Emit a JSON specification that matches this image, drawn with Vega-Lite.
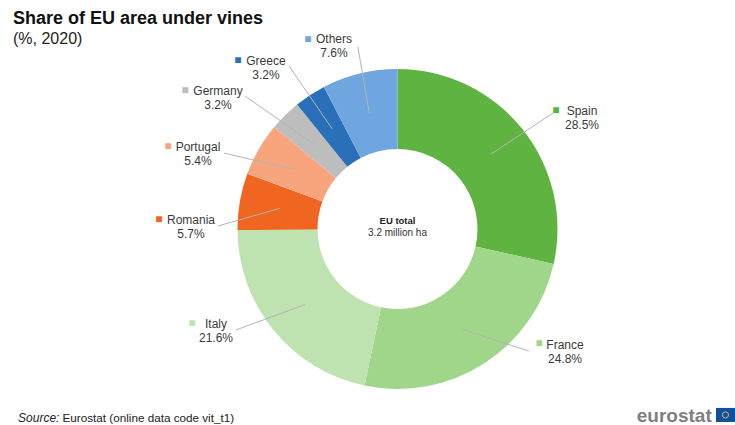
{
  "$schema": "https://vega.github.io/schema/vega-lite/v6.json",
  "autosize": "none",
  "padding": {"left": 60, "top": 33, "right": 0, "bottom": 0},
  "width": 675,
  "height": 392,
  "background": "white",
  "title": {
    "text": "Share of EU area under vines",
    "subtitle": "(%, 2020)",
    "anchor": "start",
    "frame": "group",
    "dx": -47,
    "offset": -14,
    "font": "Liberation Sans",
    "fontSize": 18,
    "fontWeight": "bold",
    "color": "#111111",
    "subtitleFont": "Liberation Sans",
    "subtitleFontSize": 16,
    "subtitleColor": "#222222",
    "subtitlePadding": 3
  },
  "config": {
    "view": {"stroke": null},
    "text": {"font": "Liberation Sans", "fontSize": 12, "color": "#3a3a3a"}
  },
  "data": {
    "values": [
      {"rank": 1, "country": "Spain", "share": 28.5, "label": "Spain\n28.5%"},
      {"rank": 2, "country": "France", "share": 24.8, "label": "France\n24.8%"},
      {"rank": 3, "country": "Italy", "share": 21.6, "label": "Italy\n21.6%"},
      {"rank": 4, "country": "Romania", "share": 5.7, "label": "Romania\n5.7%"},
      {"rank": 5, "country": "Portugal", "share": 5.4, "label": "Portugal\n5.4%"},
      {"rank": 6, "country": "Germany", "share": 3.2, "label": "Germany\n3.2%"},
      {"rank": 7, "country": "Greece", "share": 3.2, "label": "Greece\n3.2%"},
      {"rank": 8, "country": "Others", "share": 7.6, "label": "Others\n7.6%"}
    ]
  },
  "transform": [
    {"stack": "share", "sort": [{"field": "rank"}], "as": ["s0", "s1"]},
    {"calculate": "sin((datum.s0 + datum.s1) / 100 * PI)", "as": "ax"},
    {"calculate": "cos((datum.s0 + datum.s1) / 100 * PI)", "as": "ay"},
    {"calculate": "0.75 * datum.ax", "as": "ix"},
    {"calculate": "0.75 * datum.ay", "as": "iy"}
  ],
  "layer": [
    {
      "mark": {"type": "arc", "outerRadius": 160, "innerRadius": 80},
      "encoding": {
        "theta": {"field": "s0", "type": "quantitative", "scale": {"domain": [0, 100]}},
        "theta2": {"field": "s1"},
        "color": {
          "field": "country",
          "type": "nominal",
          "legend": null,
          "scale": {
            "domain": ["Spain", "France", "Italy", "Romania", "Portugal", "Germany", "Greece", "Others"],
            "range": ["#5fb441", "#9fd68a", "#bfe3b0", "#f0651f", "#f8a57e", "#bdbdbd", "#2a70b8", "#70a6e0"]
          }
        }
      }
    },
    {
      "transform": [{"filter": "datum.country === 'Spain'"}],
      "encoding": {"x": {"field": "ax", "type": "quantitative", "scale": {"domain": [-2.116, 2.116]}, "axis": null}, "y": {"field": "ay", "type": "quantitative", "scale": {"domain": [-1.229, 1.229]}, "axis": null}},
      "layer": [
        {"mark": {"type": "rule", "color": "#b4b4b4", "strokeWidth": 1}, "encoding": {"x": {"field": "ix", "type": "quantitative", "scale": {"domain": [-2.116, 2.116]}, "axis": null}, "y": {"field": "iy", "type": "quantitative", "scale": {"domain": [-1.229, 1.229]}, "axis": null}, "x2": {"datum": 0.975}, "y2": {"datum": 0.727}}},
        {"mark": {"type": "text", "lineBreak": "\n", "lineHeight": 14, "dx": 60, "dy": -18.3}, "encoding": {"text": {"field": "label"}}},
        {"mark": {"type": "text", "text": "■", "fontSize": 12, "baseline": "middle", "dx": 34, "dy": -19.3}, "encoding": {"color": {"field": "country", "type": "nominal"}}}
      ]
    },
    {
      "transform": [{"filter": "datum.country === 'France'"}],
      "encoding": {"x": {"field": "ax", "type": "quantitative", "scale": {"domain": [-2.116, 2.116]}, "axis": null}, "y": {"field": "ay", "type": "quantitative", "scale": {"domain": [-1.229, 1.229]}, "axis": null}},
      "layer": [
        {"mark": {"type": "rule", "color": "#b4b4b4", "strokeWidth": 1}, "encoding": {"x": {"field": "ix", "type": "quantitative", "scale": {"domain": [-2.116, 2.116]}, "axis": null}, "y": {"field": "iy", "type": "quantitative", "scale": {"domain": [-1.229, 1.229]}, "axis": null}, "x2": {"datum": 0.824}, "y2": {"datum": -0.765}}},
        {"mark": {"type": "text", "lineBreak": "\n", "lineHeight": 14, "dx": 81.2, "dy": -18.1}, "encoding": {"text": {"field": "label"}}},
        {"mark": {"type": "text", "text": "■", "fontSize": 12, "baseline": "middle", "dx": 55.2, "dy": -20.1}, "encoding": {"color": {"field": "country", "type": "nominal"}}}
      ]
    },
    {
      "transform": [{"filter": "datum.country === 'Italy'"}],
      "encoding": {"x": {"field": "ax", "type": "quantitative", "scale": {"domain": [-2.116, 2.116]}, "axis": null}, "y": {"field": "ay", "type": "quantitative", "scale": {"domain": [-1.229, 1.229]}, "axis": null}},
      "layer": [
        {"mark": {"type": "rule", "color": "#b4b4b4", "strokeWidth": 1}, "encoding": {"x": {"field": "ix", "type": "quantitative", "scale": {"domain": [-2.116, 2.116]}, "axis": null}, "y": {"field": "iy", "type": "quantitative", "scale": {"domain": [-1.229, 1.229]}, "axis": null}, "x2": {"datum": -1.013}, "y2": {"datum": -0.633}}},
        {"mark": {"type": "text", "lineBreak": "\n", "lineHeight": 14, "dx": -58, "dy": -5.4}, "encoding": {"text": {"field": "label"}}},
        {"mark": {"type": "text", "text": "■", "fontSize": 12, "baseline": "middle", "dx": -82, "dy": -6.9}, "encoding": {"color": {"field": "country", "type": "nominal"}}}
      ]
    },
    {
      "transform": [{"filter": "datum.country === 'Romania'"}],
      "encoding": {"x": {"field": "ax", "type": "quantitative", "scale": {"domain": [-2.116, 2.116]}, "axis": null}, "y": {"field": "ay", "type": "quantitative", "scale": {"domain": [-1.229, 1.229]}, "axis": null}},
      "layer": [
        {"mark": {"type": "rule", "color": "#b4b4b4", "strokeWidth": 1}, "encoding": {"x": {"field": "ix", "type": "quantitative", "scale": {"domain": [-2.116, 2.116]}, "axis": null}, "y": {"field": "iy", "type": "quantitative", "scale": {"domain": [-1.229, 1.229]}, "axis": null}, "x2": {"datum": -1.125}, "y2": {"datum": 0.019}}},
        {"mark": {"type": "text", "lineBreak": "\n", "lineHeight": 14, "dx": -49.4, "dy": 18.4}, "encoding": {"text": {"field": "label"}}},
        {"mark": {"type": "text", "text": "■", "fontSize": 12, "baseline": "middle", "dx": -81.4, "dy": 17.4}, "encoding": {"color": {"field": "country", "type": "nominal"}}}
      ]
    },
    {
      "transform": [{"filter": "datum.country === 'Portugal'"}],
      "encoding": {"x": {"field": "ax", "type": "quantitative", "scale": {"domain": [-2.116, 2.116]}, "axis": null}, "y": {"field": "ay", "type": "quantitative", "scale": {"domain": [-1.229, 1.229]}, "axis": null}},
      "layer": [
        {"mark": {"type": "rule", "color": "#b4b4b4", "strokeWidth": 1}, "encoding": {"x": {"field": "ix", "type": "quantitative", "scale": {"domain": [-2.116, 2.116]}, "axis": null}, "y": {"field": "iy", "type": "quantitative", "scale": {"domain": [-1.229, 1.229]}, "axis": null}, "x2": {"datum": -1.088}, "y2": {"datum": 0.476}}},
        {"mark": {"type": "text", "lineBreak": "\n", "lineHeight": 14, "dx": -61.2, "dy": -2.6}, "encoding": {"text": {"field": "label"}}},
        {"mark": {"type": "text", "text": "■", "fontSize": 12, "baseline": "middle", "dx": -91.2, "dy": -3.6}, "encoding": {"color": {"field": "country", "type": "nominal"}}}
      ]
    },
    {
      "transform": [{"filter": "datum.country === 'Germany'"}],
      "encoding": {"x": {"field": "ax", "type": "quantitative", "scale": {"domain": [-2.116, 2.116]}, "axis": null}, "y": {"field": "ay", "type": "quantitative", "scale": {"domain": [-1.229, 1.229]}, "axis": null}},
      "layer": [
        {"mark": {"type": "rule", "color": "#b4b4b4", "strokeWidth": 1}, "encoding": {"x": {"field": "ix", "type": "quantitative", "scale": {"domain": [-2.116, 2.116]}, "axis": null}, "y": {"field": "iy", "type": "quantitative", "scale": {"domain": [-1.229, 1.229]}, "axis": null}, "x2": {"datum": -0.956}, "y2": {"datum": 0.834}}},
        {"mark": {"type": "text", "lineBreak": "\n", "lineHeight": 14, "dx": -67.4, "dy": -24.1}, "encoding": {"text": {"field": "label"}}},
        {"mark": {"type": "text", "text": "■", "fontSize": 12, "baseline": "middle", "dx": -100.4, "dy": -25.6}, "encoding": {"color": {"field": "country", "type": "nominal"}}}
      ]
    },
    {
      "transform": [{"filter": "datum.country === 'Greece'"}],
      "encoding": {"x": {"field": "ax", "type": "quantitative", "scale": {"domain": [-2.116, 2.116]}, "axis": null}, "y": {"field": "ay", "type": "quantitative", "scale": {"domain": [-1.229, 1.229]}, "axis": null}},
      "layer": [
        {"mark": {"type": "rule", "color": "#b4b4b4", "strokeWidth": 1}, "encoding": {"x": {"field": "ix", "type": "quantitative", "scale": {"domain": [-2.116, 2.116]}, "axis": null}, "y": {"field": "iy", "type": "quantitative", "scale": {"domain": [-1.229, 1.229]}, "axis": null}, "x2": {"datum": -0.68}, "y2": {"datum": 1.022}}},
        {"mark": {"type": "text", "lineBreak": "\n", "lineHeight": 14, "dx": -44.4, "dy": -34.8}, "encoding": {"text": {"field": "label"}}},
        {"mark": {"type": "text", "text": "■", "fontSize": 12, "baseline": "middle", "dx": -72.4, "dy": -35.3}, "encoding": {"color": {"field": "country", "type": "nominal"}}}
      ]
    },
    {
      "transform": [{"filter": "datum.country === 'Others'"}],
      "encoding": {"x": {"field": "ax", "type": "quantitative", "scale": {"domain": [-2.116, 2.116]}, "axis": null}, "y": {"field": "ay", "type": "quantitative", "scale": {"domain": [-1.229, 1.229]}, "axis": null}},
      "layer": [
        {"mark": {"type": "rule", "color": "#b4b4b4", "strokeWidth": 1}, "encoding": {"x": {"field": "ix", "type": "quantitative", "scale": {"domain": [-2.116, 2.116]}, "axis": null}, "y": {"field": "iy", "type": "quantitative", "scale": {"domain": [-1.229, 1.229]}, "axis": null}, "x2": {"datum": -0.248}, "y2": {"datum": 1.141}}},
        {"mark": {"type": "text", "lineBreak": "\n", "lineHeight": 14, "dx": -25.8, "dy": -35}, "encoding": {"text": {"field": "label"}}},
        {"mark": {"type": "text", "text": "■", "fontSize": 12, "baseline": "middle", "dx": -51.8, "dy": -35}, "encoding": {"color": {"field": "country", "type": "nominal"}}}
      ]
    },
    {
      "data": {"values": [{"note": "EU total"}]},
      "mark": {"type": "text", "fontSize": 9.5, "fontWeight": "bold", "color": "#222222"},
      "encoding": {"text": {"field": "note"}, "x": {"datum": 0, "scale": {"domain": [-2.116, 2.116]}, "axis": null}, "y": {"datum": 0.05, "scale": {"domain": [-1.229, 1.229]}, "axis": null}}
    },
    {
      "data": {"values": [{"note": "3.2 million ha"}]},
      "mark": {"type": "text", "fontSize": 10, "color": "#333333"},
      "encoding": {"text": {"field": "note"}, "x": {"datum": 0, "scale": {"domain": [-2.116, 2.116]}, "axis": null}, "y": {"datum": -0.025, "scale": {"domain": [-1.229, 1.229]}, "axis": null}}
    },
    {
      "data": {"values": [{"note": "Source:"}]},
      "mark": {"type": "text", "align": "left", "fontSize": 12, "fontStyle": "italic", "color": "#222222"},
      "encoding": {"text": {"field": "note"}, "x": {"datum": -2.379, "scale": {"domain": [-2.116, 2.116]}, "axis": null}, "y": {"datum": -1.185, "scale": {"domain": [-1.229, 1.229]}, "axis": null}}
    },
    {
      "data": {"values": [{"note": "Eurostat (online data code vit_t1)"}]},
      "mark": {"type": "text", "align": "left", "fontSize": 11.7, "color": "#222222"},
      "encoding": {"text": {"field": "note"}, "x": {"datum": -2.1, "scale": {"domain": [-2.116, 2.116]}, "axis": null}, "y": {"datum": -1.185, "scale": {"domain": [-1.229, 1.229]}, "axis": null}}
    },
    {
      "data": {"values": [{"note": "eurostat"}]},
      "mark": {"type": "text", "align": "left", "fontSize": 19, "fontWeight": "bold", "color": "#7f7f7f"},
      "encoding": {"text": {"field": "note"}, "x": {"datum": 1.5, "scale": {"domain": [-2.116, 2.116]}, "axis": null}, "y": {"datum": -1.172, "scale": {"domain": [-1.229, 1.229]}, "axis": null}}
    },
    {
      "data": {"values": [{"note": "flag"}]},
      "mark": {"type": "rect", "color": "#124f9e"},
      "encoding": {"x": {"datum": 1.997, "scale": {"domain": [-2.116, 2.116]}, "axis": null}, "x2": {"datum": 2.116}, "y": {"datum": -1.122, "scale": {"domain": [-1.229, 1.229]}, "axis": null}, "y2": {"datum": -1.21}}
    },
    {
      "data": {"values": [{"note": "stars"}]},
      "mark": {"type": "point", "shape": "circle", "filled": false, "size": 38, "color": "#d9c84a", "strokeWidth": 1, "opacity": 0.9},
      "encoding": {"x": {"datum": 2.056, "scale": {"domain": [-2.116, 2.116]}, "axis": null}, "y": {"datum": -1.166, "scale": {"domain": [-1.229, 1.229]}, "axis": null}}
    }
  ]
}
